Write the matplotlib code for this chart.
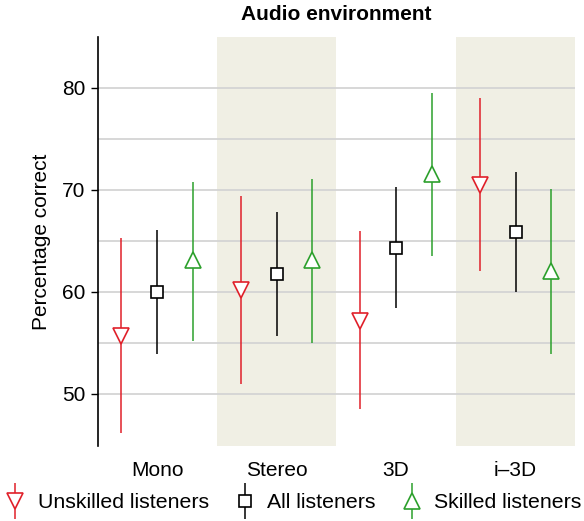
import numpy as np
import matplotlib.pyplot as plt
from matplotlib.container import ErrorbarContainer
from matplotlib.legend_handler import HandlerErrorbar

plt.rcParams['font.family'] = ['Liberation Sans', 'DejaVu Sans']

envs = ["Mono", "Stereo", "3D", "i\u20133D"]

# mean and confidence limits per listener group
unskilled = [55.7, 60.2, 57.2, 70.5]
unskilled_lo = [46.2, 51.0, 48.5, 62.1]
unskilled_hi = [65.3, 69.4, 66.0, 79.0]

everyone = [60.0, 61.8, 64.3, 65.9]
everyone_lo = [53.9, 55.7, 58.4, 60.0]
everyone_hi = [66.1, 67.8, 70.3, 71.8]

skilled = [63.1, 63.1, 71.6, 62.1]
skilled_lo = [55.2, 55.0, 63.5, 53.9]
skilled_hi = [70.8, 71.1, 79.5, 70.1]

red = '#e0202a'
green = '#2ca02c'

fig = plt.figure(figsize=(5.84, 5.21), dpi=100)
ax = fig.add_axes([0.167, 0.144, 0.818, 0.785])

x = np.arange(len(envs))
ax.set_xlim(-0.5, len(envs) - 0.5)
ax.set_ylim(44.9, 85)

for i in (1, 3):
    ax.axvspan(i - 0.5, i + 0.5, color='#f0efe4', lw=0, zorder=0)
for yv in np.arange(50, 81, 5):
    ax.axhline(yv, color='#d4d4d4', lw=1.3, zorder=1)

def draw(xs, m, lo, hi, color, marker, ms, label):
    m = np.array(m)
    err = [m - np.array(lo), np.array(hi) - m]
    ax.errorbar(xs, m, yerr=err, fmt=marker, color=color, ecolor=color,
                elinewidth=1.1, ms=ms, mfc='white', mec=color, mew=1.2,
                capsize=0, zorder=3, label=label)

off = 0.3
draw(x - off, unskilled, unskilled_lo, unskilled_hi, red, 'v', 12, "Unskilled listeners")
draw(x, everyone, everyone_lo, everyone_hi, 'black', 's', 8.5, "All listeners")
draw(x + off, skilled, skilled_lo, skilled_hi, green, '^', 12, "Skilled listeners")

ax.set_xticks(x)
ax.set_xticklabels(envs, fontsize=15)
ax.tick_params(axis='x', length=0, pad=11)
ax.set_yticks([50, 60, 70, 80])
ax.tick_params(axis='y', labelsize=15, length=5, width=1)
ax.set_ylabel("Percentage correct", fontsize=15, labelpad=8)
ax.set_title("Audio environment", fontsize=15, fontweight='bold', pad=12)

for s in ('top', 'right', 'bottom'):
    ax.spines[s].set_visible(False)
ax.spines['left'].set_linewidth(1.2)

fig.legend(loc='lower center', bbox_to_anchor=(0.5, -0.02), ncol=3,
           frameon=False, fontsize=15.3, handlelength=1.2, handletextpad=0.45,
           columnspacing=1.1,
           handler_map={ErrorbarContainer: HandlerErrorbar(yerr_size=0.85)})

fig.savefig("out.png", dpi=100)
